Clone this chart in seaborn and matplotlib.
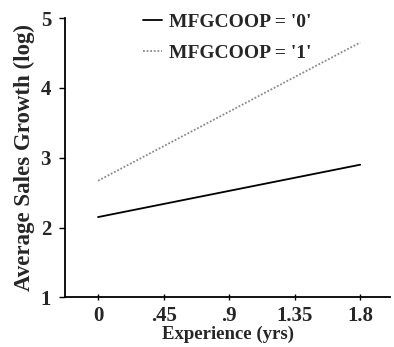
import matplotlib
matplotlib.use("Agg")
import matplotlib.pyplot as plt
import seaborn as sns
import pandas as pd

# data
experience = [0.0, 1.8]
growth_coop0 = [2.15, 2.90]
growth_coop1 = [2.67, 4.65]
group_labels = ["MFGCOOP = '0'", "MFGCOOP = '1'"]
x_ticks = [0, 0.45, 0.9, 1.35, 1.8]
x_tick_labels = ["0", ".45", ".9", "1.35", "1.8"]
y_ticks = [1, 2, 3, 4, 5]

df = pd.DataFrame({
    "experience": experience * 2,
    "growth": growth_coop0 + growth_coop1,
    "group": [group_labels[0]] * 2 + [group_labels[1]] * 2,
})

sns.set_style("ticks")
plt.rcParams["font.family"] = ["Liberation Serif", "DejaVu Serif"]
plt.rcParams["font.weight"] = "bold"

fig = plt.figure(figsize=(3.94, 3.47), dpi=100)
ax = fig.add_axes([0.165, 0.143, 0.825, 0.805])

sns.lineplot(data=df, x="experience", y="growth", hue="group", style="group",
             palette=["black", "#8a8a8a"], dashes=[(None, None), (1, 1)],
             linewidth=1.3, ax=ax)

ax.set_xlim(-0.227, 2.005)
ax.set_ylim(1, 5)
ax.set_xticks(x_ticks)
ax.set_xticklabels(x_tick_labels)
ax.set_yticks(y_ticks)
ax.tick_params(axis="both", labelsize=15, length=4, width=1, color="black")
ax.tick_params(axis="x", direction="inout", pad=4)
ax.tick_params(axis="y", pad=6)
for s in ["top", "right"]:
    ax.spines[s].set_visible(False)
for s in ["left", "bottom"]:
    ax.spines[s].set_color("black")
    ax.spines[s].set_linewidth(1.3)

ax.set_xlabel("Experience (yrs)", fontsize=13.5, fontweight="bold", labelpad=0)
ax.set_ylabel("Average Sales Growth (log)", fontsize=16.5, fontweight="bold", labelpad=4)

leg = ax.legend(loc="upper left", bbox_to_anchor=(0.185, 1.08), frameon=False,
                fontsize=14, handlelength=1.0, handletextpad=0.35, labelspacing=0.7)
for t in leg.get_texts():
    t.set_fontweight("bold")

fig.savefig("out.png", dpi=100)
